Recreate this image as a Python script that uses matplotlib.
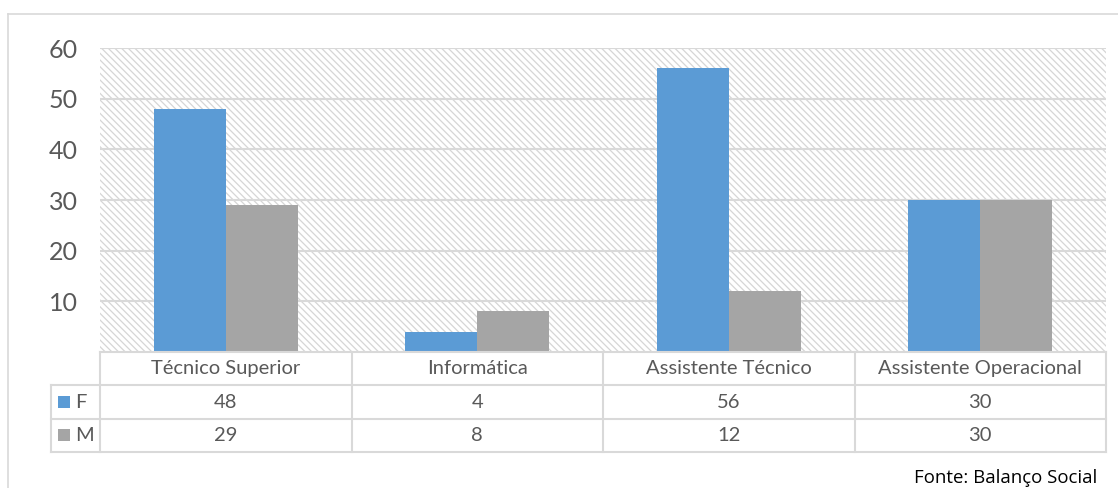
import matplotlib
matplotlib.use("Agg")
import matplotlib.pyplot as plt
from matplotlib.patches import Rectangle

categories = ["Técnico Superior", "Informática", "Assistente Técnico", "Assistente Operacional"]
series_names = ["F", "M"]
f_values = [48, 4, 56, 30]
m_values = [29, 8, 12, 30]
yticks = [10, 20, 30, 40, 50, 60]

COLORS = {"F": "#5B9BD5", "M": "#A5A5A5"}
GRID = "#D9D9D9"
TXT = "#595959"
FONT = dict(family=["Lato", "DejaVu Sans"], weight="normal")

W, H = 1118, 488
fig = plt.figure(figsize=(W / 100, H / 100), dpi=100)


def fx(px):
    return px / W


def fy(py):
    return 1 - py / H


# outer chart border (left + top)
fig.add_artist(plt.Line2D([fx(8), fx(8)], [fy(14), 0], color=GRID, lw=1.2))
fig.add_artist(plt.Line2D([fx(8), 1], [fy(14), fy(14)], color=GRID, lw=1.2))

# plot area
ax = fig.add_axes([fx(100), fy(352), fx(1106) - fx(100), fy(48) - fy(352)])
ax.set_xlim(-0.5, len(categories) - 0.5)
ax.set_ylim(0, 60)
plt.rcParams["hatch.color"] = "#D6D6D6"
plt.rcParams["hatch.linewidth"] = 0.9
ax.add_patch(Rectangle((0, 0), 1, 1, transform=ax.transAxes, facecolor="white",
                       edgecolor="#D6D6D6", hatch="\\\\\\\\\\", lw=0, zorder=0))
for t in yticks:
    ax.axhline(t, color=GRID, lw=1.5, zorder=1)
for s in ax.spines.values():
    s.set_visible(False)

bw = 0.286
xs = range(len(categories))
ax.bar([x - bw / 2 for x in xs], f_values, width=bw, color=COLORS["F"], zorder=3)
ax.bar([x + bw / 2 for x in xs], m_values, width=bw, color=COLORS["M"], zorder=3)
ax.set_xticks([])
ax.set_yticks(yticks)
ax.tick_params(axis="y", length=0, pad=16)
for lab in ax.get_yticklabels():
    lab.set_fontsize(18)
    lab.set_color(TXT)
    lab.set_fontfamily(FONT["family"])
    lab.set_fontweight(FONT["weight"])

# data table
tx = fig.add_axes([fx(51), fy(452), fx(1106) - fx(51), fy(352) - fy(452)])
legw = (100 - 51) / 251.5
tx.set_xlim(-0.5 - legw, len(categories) - 0.5)
tx.set_ylim(0, 3)
tx.axis("off")
x0, x1 = -0.5 - legw, len(categories) - 0.5
lk = dict(color=GRID, lw=1.5, clip_on=False)
tx.plot([-0.5, x1], [3, 3], **lk)
for yy in (0, 1, 2):
    tx.plot([x0, x1], [yy, yy], **lk)
tx.plot([x0, x0], [0, 2], **lk)
for i in range(len(categories) + 1):
    tx.plot([i - 0.5, i - 0.5], [0, 3], **lk)

for i, c in enumerate(categories):
    tx.text(i, 2.5, c, ha="center", va="center", fontsize=14.5, color=TXT, **FONT)
for r, (name, vals) in enumerate(zip(series_names, [f_values, m_values])):
    yc = 1.5 - r
    for i, v in enumerate(vals):
        tx.text(i, yc, str(v), ha="center", va="center", fontsize=14.5, color=TXT, **FONT)
    tx.add_patch(Rectangle((x0 + 0.028, yc - 0.18), 0.048, 0.36, color=COLORS[name], lw=0))
    tx.text(x0 + 0.095, yc, name, ha="left", va="center", fontsize=14.5, color=TXT, **FONT)

fig.text(fx(1097), fy(478), "Fonte: Balanço Social", ha="right", va="center",
         fontsize=13.4, color="black", family=["Open Sans", "DejaVu Sans"])

fig.savefig("out.png", dpi=100)
